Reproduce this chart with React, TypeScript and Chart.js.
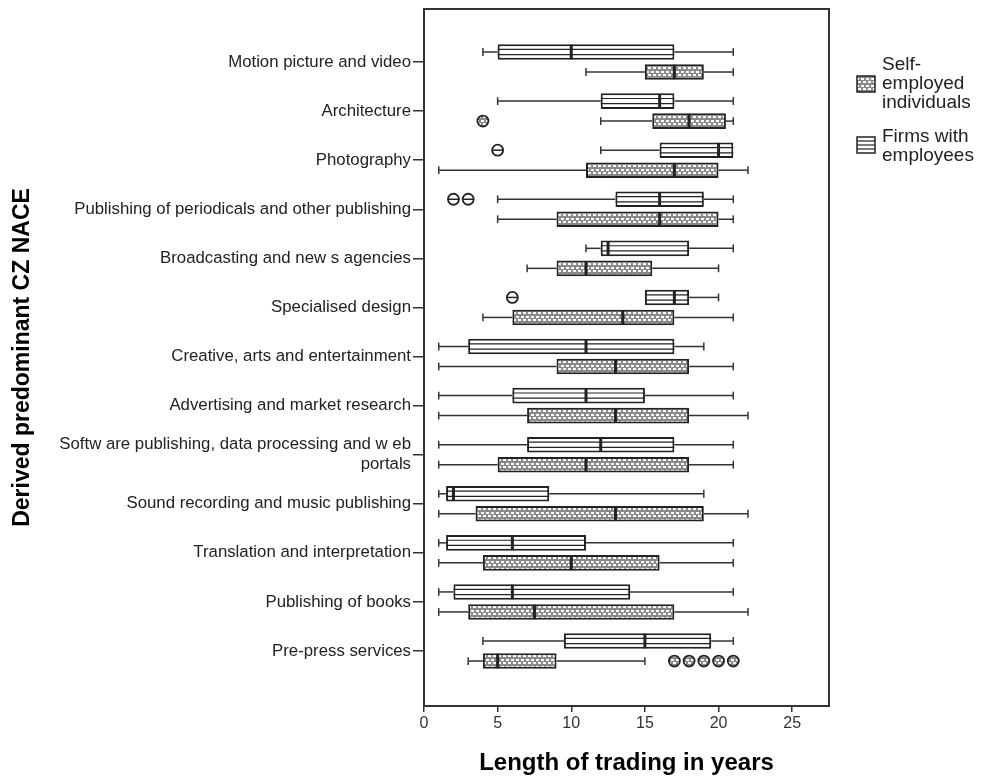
import React, { useEffect, useRef } from 'react';
import { Chart, registerables } from 'chart.js';

Chart.register(...registerables);

const categories: (string | string[])[] = [
  'Motion picture and video',
  'Architecture',
  'Photography',
  'Publishing of periodicals and other publishing',
  'Broadcasting and new s agencies',
  'Specialised design',
  'Creative, arts and entertainment',
  'Advertising and market research',
  ['Softw are publishing, data processing and w eb', 'portals'],
  'Sound recording and music publishing',
  'Translation and interpretation',
  'Publishing of books',
  'Pre-press services',
];

// Firms with employees
const firmsMin = [4, 5, 12, 5, 11, 15, 1, 1, 1, 1, 1, 1, 4];
const firmsQ1 = [5, 12, 16, 13, 12, 15, 3, 6, 7, 1.5, 1.5, 2, 9.5];
const firmsMedian = [10, 16, 20, 16, 12.5, 17, 11, 11, 12, 2, 6, 6, 15];
const firmsQ3 = [17, 17, 21, 19, 18, 18, 17, 15, 17, 8.5, 11, 14, 19.5];
const firmsMax = [21, 21, 21, 21, 21, 20, 19, 21, 21, 19, 21, 21, 21];
const firmsOutliers: number[][] = [[], [], [5], [2, 3], [], [6], [], [], [], [], [], [], []];

// Self-employed individuals
const selfMin = [11, 12, 1, 5, 7, 4, 1, 1, 1, 1, 1, 1, 3];
const selfQ1 = [15, 15.5, 11, 9, 9, 6, 9, 7, 5, 3.5, 4, 3, 4];
const selfMedian = [17, 18, 17, 16, 11, 13.5, 13, 13, 11, 13, 10, 7.5, 5];
const selfQ3 = [19, 20.5, 20, 20, 15.5, 17, 18, 18, 18, 19, 16, 17, 9];
const selfMax = [21, 21, 22, 21, 20, 21, 21, 22, 21, 22, 21, 22, 15];
const selfOutliers: number[][] = [[], [4], [], [], [], [], [], [], [], [], [], [], [17, 18, 19, 20, 21]];

const xTicks = [0, 5, 10, 15, 20, 25];

const FONT = "'Liberation Sans', Arial, sans-serif";

function makeDotPattern(ctx: CanvasRenderingContext2D): CanvasPattern {
  const c = document.createElement('canvas');
  c.width = 10;
  c.height = 7;
  const g = c.getContext('2d')!;
  g.fillStyle = '#8a8a8a';
  g.fillRect(0, 0, 10, 7);
  g.fillStyle = '#ffffff';
  g.fillRect(1, 1, 3, 2);
  g.fillRect(6, 1, 3, 2);
  g.fillRect(3, 4, 3, 2);
  g.fillRect(8, 4, 2, 2);
  g.fillRect(0, 4, 1, 2);
  return ctx.createPattern(c, 'repeat')!;
}

export default function App() {
  const ref = useRef<HTMLCanvasElement>(null);

  useEffect(() => {
    const canvas = ref.current!;
    const dots = makeDotPattern(canvas.getContext('2d')!);

    const line = (ctx: CanvasRenderingContext2D, x0: number, y0: number, x1: number, y1: number) => {
      ctx.beginPath();
      ctx.moveTo(x0, y0);
      ctx.lineTo(x1, y1);
      ctx.stroke();
    };

    const framePlugin = {
      id: 'frame',
      afterDraw(chart: any) {
        const { ctx, chartArea: a } = chart;
        ctx.save();
        ctx.strokeStyle = '#333';
        ctx.lineWidth = 2;
        ctx.strokeRect(a.left, a.top, a.right - a.left, a.bottom - a.top);
        ctx.restore();
      },
    };

    const boxPlugin = {
      id: 'boxExtras',
      afterDatasetsDraw(chart: any) {
        const { ctx } = chart;
        const xs = chart.scales.x;
        const groups = [
          { min: firmsMin, med: firmsMedian, max: firmsMax, out: firmsOutliers, striped: true },
          { min: selfMin, med: selfMedian, max: selfMax, out: selfOutliers, striped: false },
        ];
        groups.forEach((g, di) => {
          const meta = chart.getDatasetMeta(di);
          meta.data.forEach((el: any, i: number) => {
            const p = el.getProps(['x', 'y', 'base', 'height'], true);
            const l = Math.min(p.x, p.base);
            const r = Math.max(p.x, p.base);
            const t = p.y - p.height / 2;
            const b = p.y + p.height / 2;
            ctx.save();
            ctx.strokeStyle = '#222';
            if (g.striped) {
              ctx.lineWidth = 1.2;
              for (let k = 1; k <= 2; k++) {
                const yy = t + ((b - t) * k) / 3;
                line(ctx, l, yy, r, yy);
              }
            }
            // median
            ctx.lineWidth = 3;
            const mx = xs.getPixelForValue(g.med[i]);
            line(ctx, mx, t + 0.5, mx, b - 0.5);
            // whiskers
            ctx.lineWidth = 1.5;
            ctx.strokeStyle = '#333';
            const x0 = xs.getPixelForValue(g.min[i]);
            const x1 = xs.getPixelForValue(g.max[i]);
            const cap = p.height * 0.25;
            if (x0 < l - 0.5) {
              line(ctx, x0, p.y, l, p.y);
              line(ctx, x0, p.y - cap, x0, p.y + cap);
            }
            if (x1 > r + 0.5) {
              line(ctx, r, p.y, x1, p.y);
              line(ctx, x1, p.y - cap, x1, p.y + cap);
            }
            // outliers
            g.out[i].forEach((v) => {
              const ox = xs.getPixelForValue(v);
              const rad = 5.5;
              ctx.beginPath();
              ctx.arc(ox, p.y, rad, 0, Math.PI * 2);
              ctx.fillStyle = g.striped ? '#fff' : dots;
              ctx.fill();
              ctx.lineWidth = 1.8;
              ctx.strokeStyle = '#222';
              ctx.stroke();
              if (g.striped) {
                ctx.lineWidth = 1.5;
                line(ctx, ox - rad, p.y, ox + rad, p.y);
              }
            });
            ctx.restore();
          });
        });
      },
    };

    const legendPlugin = {
      id: 'customLegend',
      afterDraw(chart: any) {
        const { ctx } = chart;
        ctx.save();
        ctx.font = `19px ${FONT}`;
        ctx.fillStyle = '#222';
        ctx.textAlign = 'left';
        ctx.textBaseline = 'middle';
        const tx = 882;
        const selfLines = ['Self-', 'employed', 'individuals'];
        const firmLines = ['Firms with', 'employees'];
        selfLines.forEach((s, k) => ctx.fillText(s, tx, 65 + k * 19));
        firmLines.forEach((s, k) => ctx.fillText(s, tx, 137 + k * 19));
        // self icon
        ctx.fillStyle = dots;
        ctx.fillRect(857, 76, 18, 16);
        ctx.strokeStyle = '#222';
        ctx.lineWidth = 1.5;
        ctx.strokeRect(857, 76, 18, 16);
        // firms icon
        ctx.fillStyle = '#fff';
        ctx.fillRect(857, 137, 18, 16);
        ctx.strokeRect(857, 137, 18, 16);
        ctx.lineWidth = 1.2;
        for (let k = 1; k <= 3; k++) {
          const yy = 137 + (16 * k) / 4;
          line(ctx, 857, yy, 875, yy);
        }
        ctx.restore();
      },
    };

    const chart = new Chart(canvas, {
      type: 'bar',
      data: {
        datasets: [
          {
            label: 'Firms with employees',
            data: categories.map((_, i) => ({ y: i, x: [firmsQ1[i], firmsQ3[i]] })) as any,
            backgroundColor: '#ffffff',
            borderColor: '#222',
            borderWidth: 2,
            borderSkipped: false,
          },
          {
            label: 'Self-employed individuals',
            data: categories.map((_, i) => ({ y: i, x: [selfQ1[i], selfQ3[i]] })) as any,
            backgroundColor: dots as any,
            borderColor: '#222',
            borderWidth: 2,
            borderSkipped: false,
          },
        ],
      },
      options: {
        indexAxis: 'y',
        animation: false,
        responsive: true,
        maintainAspectRatio: false,
        layout: { padding: { top: 9, right: 157, left: 0, bottom: 0 } },
        datasets: { bar: { categoryPercentage: 0.815, barPercentage: 0.78 } } as any,
        plugins: { legend: { display: false }, tooltip: { enabled: false } },
        scales: {
          x: {
            type: 'linear',
            min: 0,
            max: 27.5,
            afterBuildTicks: (ax: any) => {
              ax.ticks = xTicks.map((v) => ({ value: v }));
            },
            afterFit: (s: any) => {
              s.height = 73;
              s.paddingLeft = 0;
              s.paddingRight = 0;
            },
            grid: { drawOnChartArea: false, drawTicks: true, tickLength: 6, color: '#333', lineWidth: 1.5 },
            border: { display: true, color: '#333', width: 2 },
            ticks: { font: { family: FONT, size: 16 }, color: '#333', padding: 2, callback: (v: any) => String(v) },
            title: {
              display: true,
              text: 'Length of trading in years',
              font: { family: FONT, size: 24, weight: 'bold' },
              color: '#000',
              padding: { top: 0, bottom: 1 },
            },
          },
          y: {
            type: 'linear',
            reverse: true,
            offset: false,
            min: -1.08,
            max: 13.12,
            afterBuildTicks: (ax: any) => {
              ax.ticks = categories.map((_, i) => ({ value: i }));
            },
            afterFit: (s: any) => {
              s.width = 424;
              s.paddingTop = 0;
              s.paddingBottom = 0;
            },
            grid: { offset: false, drawOnChartArea: false, drawTicks: true, tickLength: 11, color: '#333', lineWidth: 1.5 },
            border: { display: true, color: '#333', width: 2 },
            ticks: {
              autoSkip: false,
              font: { family: FONT, size: 16.8 },
              color: '#222',
              padding: 2,
              callback: (v: any) => categories[v as number] as any,
            },
            title: {
              display: true,
              text: 'Derived predominant CZ NACE',
              font: { family: FONT, size: 23, weight: 'bold' },
              color: '#000',
              padding: { top: 9, bottom: 0 },
            },
          },
        },
      },
      plugins: [framePlugin, boxPlugin, legendPlugin],
    });

    return () => chart.destroy();
  }, []);

  return (
    <div style={{ position: 'fixed', left: 0, top: 0, width: 986, height: 779, background: '#fff' }}>
      <canvas ref={ref} />
    </div>
  );
}
